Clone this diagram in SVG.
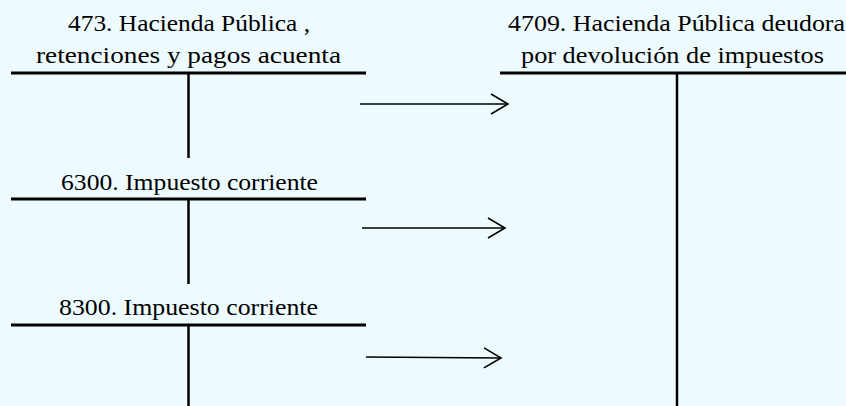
<svg xmlns="http://www.w3.org/2000/svg" width="846" height="406" viewBox="0 0 846 406">
<style>
  text { font-family: "Liberation Serif", "Times New Roman", serif; font-size: 24px; fill: #000; text-anchor: middle; }
  .h { stroke: #000; stroke-width: 3; fill: none; }
  .v { stroke: #000; stroke-width: 2.5; fill: none; }
  .a { stroke: #000; stroke-width: 1.6; fill: none; marker-end: url(#arr); }
</style>
<defs>
  <marker id="arr" markerUnits="userSpaceOnUse" markerWidth="24" markerHeight="24" viewBox="-20 -12 24 24" refX="0" refY="0" orient="auto" overflow="visible">
    <path d="M-17,-10 L0,0 L-17,10" fill="none" stroke="#000" stroke-width="1.6"/>
  </marker>
</defs>
<rect width="846" height="406" fill="#EEFBFE"/>
<g id="t473">
  <text x="189" y="31" textLength="242" lengthAdjust="spacingAndGlyphs">473. Hacienda Pública ,</text>
  <text x="188.5" y="63" textLength="305" lengthAdjust="spacingAndGlyphs">retenciones y pagos acuenta</text>
  <line class="h" x1="11" y1="73" x2="366" y2="73"/>
  <line class="v" x1="188.5" y1="73" x2="188.5" y2="158"/>
</g>
<g id="t4709">
  <text x="676.5" y="31" textLength="337" lengthAdjust="spacingAndGlyphs">4709. Hacienda Pública deudora</text>
  <text x="672.5" y="63" textLength="303" lengthAdjust="spacingAndGlyphs">por devolución de impuestos</text>
  <line class="h" x1="500" y1="73" x2="846" y2="73"/>
  <line class="v" x1="677" y1="73" x2="677" y2="406"/>
</g>
<g id="t6300">
  <text x="189.5" y="190" textLength="257" lengthAdjust="spacingAndGlyphs">6300. Impuesto corriente</text>
  <line class="h" x1="11" y1="199" x2="366" y2="199"/>
  <line class="v" x1="188.5" y1="199" x2="188.5" y2="284"/>
</g>
<g id="t8300">
  <text x="188.5" y="315" textLength="259" lengthAdjust="spacingAndGlyphs">8300. Impuesto corriente</text>
  <line class="h" x1="11" y1="325" x2="366" y2="325"/>
  <line class="v" x1="188.5" y1="325" x2="188.5" y2="406"/>
</g>
<g id="connectors">
  <line class="a" x1="360" y1="104" x2="508" y2="104"/>
  <line class="a" x1="362" y1="228" x2="505" y2="228"/>
  <line class="a" x1="366" y1="357" x2="501" y2="358"/>
</g>
</svg>
